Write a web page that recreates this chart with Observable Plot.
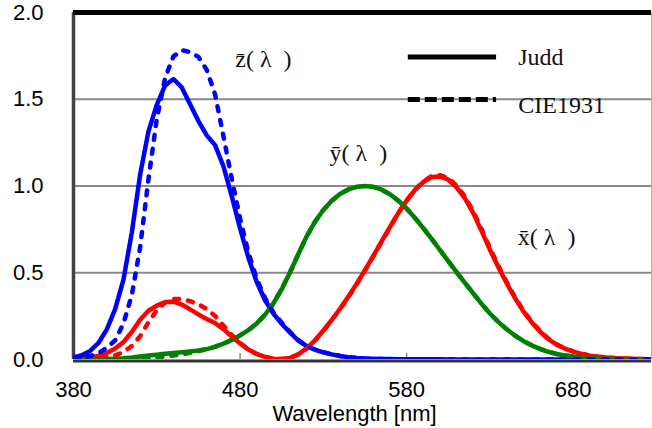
<!DOCTYPE html>
<html><head><meta charset="utf-8">
<script src="https://cdn.jsdelivr.net/npm/d3@7"></script>
<script src="https://cdn.jsdelivr.net/npm/@observablehq/plot@0.6"></script>
<style>
html,body{margin:0;padding:0;background:#fff}
#chart svg{display:block}
</style></head><body><div id="chart"></div>
<script>
// Wavelengths (nm)
const wavelengths = [380,385,390,395,400,405,410,415,420,425,430,435,440,445,450,455,460,465,470,475,480,485,490,495,500,505,510,515,520,525,530,535,540,545,550,555,560,565,570,575,580,585,590,595,600,605,610,615,620,625,630,635,640,645,650,655,660,665,670,675,680,685,690,695,700,705,710,715,720,725,730];

// Judd (solid)
const juddX = [0.00269,0.00531,0.01078,0.02079,0.03798,0.06316,0.09994,0.15824,0.22948,0.28108,0.31095,0.33072,0.33336,0.31672,0.28882,0.25969,0.23276,0.20999,0.17476,0.13287,0.09194,0.05699,0.03173,0.01461,0.00485,0.00232,0.00929,0.02928,0.06379,0.11081,0.16692,0.22768,0.29269,0.36225,0.43635,0.51513,0.59748,0.68121,0.76425,0.84394,0.91635,0.97703,1.0230,1.0513,1.0550,1.0362,0.99239,0.92861,0.84346,0.73983,0.63289,0.53351,0.44062,0.35453,0.27862,0.21485,0.16161,0.11820,0.08575,0.06308,0.04583,0.03206,0.02219,0.01561,0.01110,0.00792,0.00565,0.00400,0.00283,0.00199,0.00140];
const juddY = [0.0002,0.0004,0.0008,0.00155,0.0028,0.00466,0.0074,0.01178,0.0175,0.02268,0.0273,0.03258,0.0379,0.04239,0.0468,0.05212,0.0600,0.07294,0.09098,0.11284,0.13902,0.16987,0.20802,0.25808,0.3230,0.4054,0.5030,0.60811,0.7100,0.7951,0.8620,0.91505,0.9540,0.98004,0.99495,1.0001,0.9950,0.97875,0.9520,0.91558,0.8700,0.81623,0.7570,0.69483,0.6310,0.56654,0.5030,0.44172,0.3810,0.32052,0.2650,0.21702,0.1750,0.13812,0.1070,0.08165,0.0610,0.04458,0.0320,0.02345,0.0170,0.01187,0.00821,0.00577,0.0041,0.00293,0.00209,0.00148,0.00105,0.00074,0.00052];
const juddZ = [0.01226,0.02422,0.04925,0.09514,0.17409,0.29013,0.46053,0.73166,1.0658,1.3146,1.4672,1.5796,1.6166,1.5682,1.4717,1.3740,1.2917,1.2356,1.1138,0.9422,0.75596,0.5864,0.44669,0.34116,0.26437,0.20594,0.15445,0.10918,0.07659,0.05623,0.04137,0.02935,0.02004,0.01331,0.00878,0.00586,0.00405,0.00292,0.00228,0.00197,0.00181,0.00154,0.00123,0.00112,0.00091,0.00069,0.00043,0.00032,0.00026,0.00016,0.0001,0.00007,0.00005,0.00004,0.00002,0.00002,0.00001,0.00001,0.00001,0,0,0,0,0,0,0,0,0,0,0,0];

// CIE 1931 (dashed)
const cieX = [0.001368,0.002236,0.004243,0.00765,0.01431,0.02319,0.04351,0.07763,0.13438,0.21477,0.2839,0.3285,0.34828,0.34806,0.3362,0.3187,0.2908,0.2511,0.19536,0.1421,0.09564,0.05795,0.03201,0.0147,0.0049,0.0024,0.0093,0.0291,0.06327,0.1096,0.1655,0.22575,0.2904,0.3597,0.43345,0.51205,0.5945,0.6784,0.7621,0.8425,0.9163,0.9786,1.0263,1.0567,1.0622,1.0456,1.0026,0.9384,0.85445,0.7514,0.6424,0.5419,0.4479,0.3608,0.2835,0.2187,0.1649,0.1212,0.0874,0.0636,0.04677,0.0329,0.0227,0.01584,0.01136,0.00811,0.00579,0.00411,0.0029,0.00205,0.00144];
const cieY = [0.000039,0.000064,0.00012,0.000217,0.000396,0.00064,0.00121,0.00218,0.004,0.0073,0.0116,0.01684,0.023,0.0298,0.038,0.048,0.06,0.0739,0.09098,0.1126,0.13902,0.1693,0.20802,0.2586,0.323,0.4073,0.503,0.6082,0.71,0.7932,0.862,0.91485,0.954,0.9803,0.99495,1.0,0.995,0.9786,0.952,0.9154,0.87,0.8163,0.757,0.6949,0.631,0.5668,0.503,0.4412,0.381,0.321,0.265,0.217,0.175,0.1382,0.107,0.0816,0.061,0.04458,0.032,0.0232,0.017,0.01192,0.00821,0.00572,0.0041,0.00293,0.00209,0.00148,0.00105,0.00074,0.00052];
const cieZ = [0.00645,0.01055,0.02005,0.03621,0.06785,0.1102,0.2074,0.3713,0.6456,1.03905,1.3856,1.62296,1.74706,1.7826,1.77211,1.7441,1.6692,1.5281,1.28764,1.0419,0.81295,0.6162,0.46518,0.3533,0.272,0.2123,0.1582,0.1117,0.07825,0.05725,0.04216,0.02984,0.0203,0.0134,0.00875,0.00575,0.0039,0.00275,0.0021,0.0018,0.00165,0.0014,0.0011,0.001,0.0008,0.0006,0.00034,0.00024,0.00019,0.0001,0.00005,0.00003,0.00002,0.00001,0,0,0,0,0,0,0,0,0,0,0,0,0,0,0,0,0];

// Axis ticks
const xTicks = [380, 480, 580, 680];
const yTicks = [0, 0.5, 1.0, 1.5, 2.0];
const gridValues = [0.5, 1.0, 1.5];

// Curve labels (text, anchor in data units)
const curveLabels = [
  {t: "z\u0304( \u03bb\u2002)", w: 494, v: 1.728},
  {t: "y\u0304( \u03bb\u2002)", w: 551, v: 1.191},
  {t: "x\u0304( \u03bb\u2002)", w: 664, v: 0.704}
];
// Legend entries (position in data units)
const legendSolid = [{name: "Judd", w1: 581, w2: 634, wt: 647, v: 1.744, vt: 1.744}];
const legendDashed = [{name: "CIE1931", w1: 581, w2: 634, wt: 647, v: 1.498, vt: 1.467}];

const colors = {x: "#ff0000", y: "#008000", z: "#0000ff"};
const toRows = vals => wavelengths.map((w, i) => ({w, v: vals[i]}));

const solid = (vals, c) => Plot.line(toRows(vals), {x: "w", y: "v", stroke: c, strokeWidth: 4.5, strokeLinejoin: "round", strokeLinecap: "round", clip: true});
const dashed = (vals, c) => Plot.line(toRows(vals), {x: "w", y: "v", stroke: c, strokeWidth: 4.5, strokeDasharray: "5,9", strokeLinecap: "round", strokeLinejoin: "round", clip: true});

const chart = Plot.plot({
  width: 652, height: 428,
  marginLeft: 73, marginRight: 1, marginTop: 12, marginBottom: 69,
  x: {domain: [380, 727]},
  y: {domain: [0, 2]},
  style: {background: "#fff", color: "#000", overflow: "visible"},
  marks: [
    Plot.ruleY(gridValues, {stroke: "#8a8a8a", strokeWidth: 2}),
    Plot.ruleX(xTicks.slice(1), {y1: 0, y2: 0.035, stroke: "#8a8a8a", strokeWidth: 1.5}),
    Plot.ruleX([727], {stroke: "#b0b0b0", strokeWidth: 1}),
    Plot.ruleY([0], {stroke: "#333", strokeWidth: 3, dy: 1.5}),
    Plot.ruleX([380], {stroke: "#444", strokeWidth: 3.5}),
    Plot.axisX({ticks: xTicks, tickSize: 0, tickPadding: 21.4, fontSize: 22, fontFamily: "Liberation Sans", tickFormat: d => String(d), label: null}),
    Plot.axisY({ticks: yTicks, tickSize: 0, tickPadding: 30, fontSize: 22, fontFamily: "Liberation Sans", tickFormat: d => d.toFixed(1), label: null}),
    Plot.text(["Wavelength [nm]"], {frameAnchor: "bottom", lineAnchor: "bottom", dy: 61.5, dx: -8, fontSize: 22, fontFamily: "Liberation Sans", fill: "#000"}),
    solid(juddX, colors.x),
    solid(juddY, colors.y),
    solid(juddZ, colors.z),
    dashed(cieX, colors.x),
    dashed(cieY, colors.y),
    dashed(cieZ, colors.z),
    Plot.ruleY([2], {stroke: "#000", strokeWidth: 5}),
    Plot.text(curveLabels, {x: "w", y: "v", text: "t", fontSize: 24, fontFamily: "Liberation Serif", fill: "#111"}),
    Plot.ruleY(legendSolid, {y: "v", x1: "w1", x2: "w2", stroke: "#000", strokeWidth: 5}),
    Plot.ruleY(legendDashed, {y: "v", x1: "w1", x2: "w2", stroke: "#000", strokeWidth: 5, strokeDasharray: "12,5"}),
    Plot.text(legendSolid.concat(legendDashed), {x: "wt", y: "vt", text: "name", textAnchor: "start", fontSize: 24, fontFamily: "Liberation Serif", fill: "#111"})
  ]
});
document.getElementById("chart").append(chart);
</script>
</body></html>
